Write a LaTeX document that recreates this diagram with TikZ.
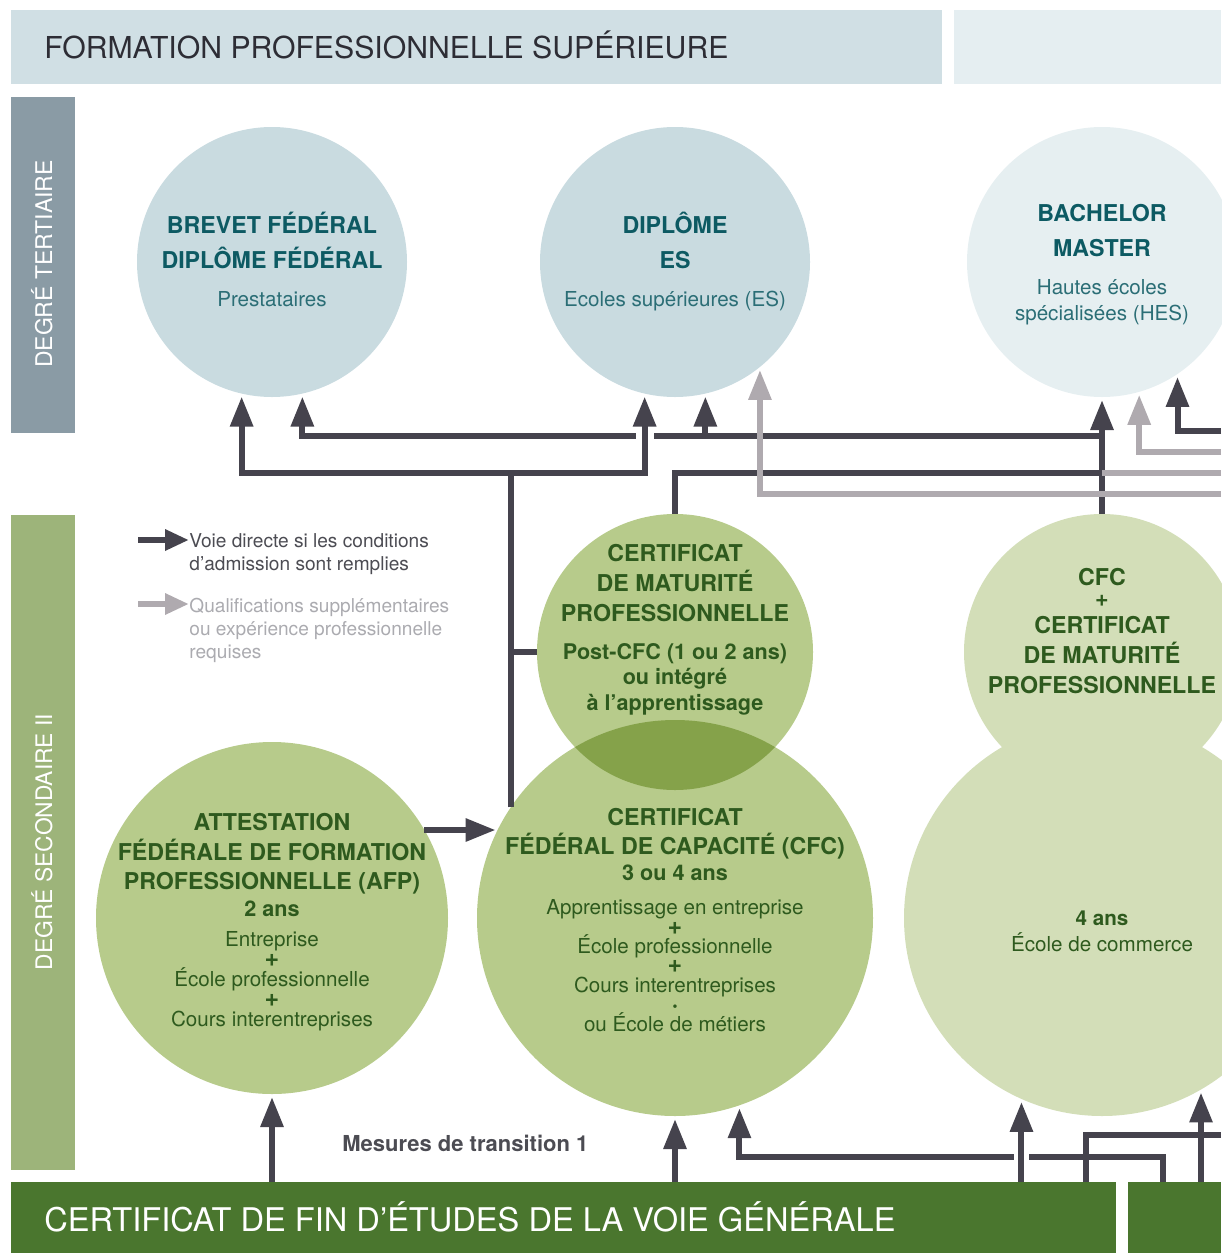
\documentclass[tikz,border=0pt]{standalone}
\usepackage{fontspec}
\setmainfont{TeX Gyre Heros}
\usetikzlibrary{arrows.meta}

\definecolor{bandeau}{HTML}{D0DFE4}
\definecolor{bandeauclair}{HTML}{E5EEF1}
\definecolor{tertiaire}{HTML}{8A9BA5}
\definecolor{secondaire}{HTML}{9DB47A}
\definecolor{vertfonce}{HTML}{4A762E}
\definecolor{bleu}{HTML}{C9DBE0}
\definecolor{bleuclair}{HTML}{E6EFF1}
\definecolor{vert}{HTML}{B7CB8B}
\definecolor{vertmoyen}{HTML}{85A24A}
\definecolor{vertclair}{HTML}{D3DEB8}
\definecolor{petrole}{HTML}{0D5A63}
\definecolor{petrolec}{HTML}{2B6E76}
\definecolor{textevert}{HTML}{2E5A1E}
\definecolor{fleche}{HTML}{45434D}
\definecolor{flechegris}{HTML}{AFAAAF}
\definecolor{legendegris}{HTML}{ABABB0}
\definecolor{titre}{HTML}{2D2D35}

\newcommand\plus{{\bfseries\fontsize{12.5}{9}\selectfont +}}

\tikzset{
  rond/.style={circle,inner sep=0pt,outer sep=0pt},
  bande/.style={inner sep=0pt,outer sep=0pt,anchor=north west},
  ligne/.style={draw=fleche,line width=3pt},
  voie/.style={ligne,-{Triangle[length=15pt,width=11pt]},shorten >=1.5pt},
  gris/.style={draw=flechegris,line width=3pt},
  grisvoie/.style={gris,-{Triangle[length=15pt,width=11pt]},shorten >=1.5pt},
  texte/.style={align=center,anchor=base,inner sep=0pt},
  gras/.style={texte,font=\bfseries\fontsize{11.6}{#1}\selectfont},
  fin/.style={texte,font=\fontsize{10.3}{#1}\selectfont},
}

\begin{document}
\begin{tikzpicture}[x=0.5pt,y=-0.5pt]
\useasboundingbox (0,0) rectangle (1221,1253);

% bandeaux
\node[bande,fill=bandeau,minimum width=465.5pt,minimum height=37pt] (entete) at (11,10) {};
\node[bande,fill=bandeauclair,minimum width=133.5pt,minimum height=37pt] (entete2) at (954,10) {};
\node[bande,fill=tertiaire,minimum width=32pt,minimum height=168pt] (tert) at (11,97) {};
\node[bande,fill=secondaire,minimum width=32pt,minimum height=327.5pt] (sec) at (11,515) {};
\node[bande,fill=vertfonce,minimum width=552.5pt,minimum height=35.5pt] (fin) at (11,1182) {};
\node[bande,fill=vertfonce,minimum width=46.5pt,minimum height=35.5pt] (fin2) at (1128,1182) {};

\node[anchor=base west,inner sep=0pt,text=titre,font=\fontsize{15.1}{17}\selectfont] (tsup) at (44,58) {FORMATION PROFESSIONNELLE SUPÉRIEURE};
\node[anchor=base west,inner sep=0pt,text=white,font=\fontsize{16.3}{18}\selectfont] (tfin) at (44,1231) {CERTIFICAT DE FIN D’ÉTUDES DE LA VOIE GÉNÉRALE};
\node[rotate=90,anchor=base,inner sep=0pt,text=white,font=\fontsize{11.5}{13}\selectfont] (ttert) at (52,264) {DEGRÉ TERTIAIRE};
\node[rotate=90,anchor=base,inner sep=0pt,text=white,font=\fontsize{11.4}{13}\selectfont] (tsec) at (52,842) {DEGRÉ SECONDAIRE II};

% cercles
\node[rond,fill=bleu,minimum size=135pt] (brevet) at (272,262) {};
\node[rond,fill=bleu,minimum size=135pt] (es) at (675,262) {};
\node[rond,fill=bleuclair,minimum size=135pt] (hes) at (1102,262) {};
\node[rond,fill=vertclair,minimum size=138pt] (cfcmp) at (1102,652) {};
\node[rond,fill=vertclair,minimum size=198pt] (commerce) at (1102,918) {};
\node[rond,fill=vert,minimum size=176pt] (afp) at (272,918) {};
\node[rond,fill=vert,minimum size=198pt] (cfc) at (675,918) {};
\node[rond,fill=vert,minimum size=138pt] (mp) at (675,652) {};
\begin{scope}
\clip (mp.center) circle[radius=69pt];
\fill[vertmoyen] (cfc.center) circle[radius=99pt];
\end{scope}

% voies directes
\coordinate (bord) at (1221,0);
\coordinate (j1) at (0,473);
\coordinate (j2) at (0,436);
\coordinate (j3) at (0,431);
\coordinate (j4) at (0,494);
\coordinate (j5) at (0,452);
\coordinate (c1) at (1163,1157);
\coordinate (c2) at (1086,1135);
\draw[voie] (cfc.146) |- (es.-103 |- j1) -- (es.-103);
\draw[voie] (cfc.146 |- j1) -| (brevet.-103);
\draw[ligne] (mp.west) -- (mp.west -| cfc.146);
\draw[ligne] (hes.south |- j2) -- ([xshift=4.5pt]es.-103 |- j2);
\draw[voie] ([xshift=-4.5pt]es.-103 |- j2) -| (brevet.-77);
\draw[voie] (es.-77 |- j2) -- (es.-77);
\draw[voie] (cfcmp.north) -- (hes.south);
\draw[ligne] (mp.north) |- (hes.south |- j1);
\draw[voie] (bord |- j3) -| (hes.-56);
\draw[voie] (afp.30) -- (afp.30 -| cfc.153);
\draw[voie] (afp.south |- fin.north) -- (afp.south);
\draw[voie] (cfc.south |- fin.north) -- (cfc.south);
\draw[ligne] (c1 |- fin2.north) |- ([xshift=3.75pt]commerce.246 |- c1);
\draw[voie] ([xshift=-3.75pt]commerce.246 |- c1) -| (cfc.-71);
\draw[voie] (commerce.246 |- fin.north) -- (commerce.246);
\draw[ligne] (c2 |- fin.north) |- (bord |- c2);
\draw[voie] (commerce.-60 |- fin2.north) -- (commerce.-60);

% qualifications
\draw[gris] (bord |- j1) -- (hes.south |- j1);
\draw[grisvoie] (bord |- j4) -| (es.-51);
\draw[grisvoie] (bord |- j5) -| (hes.-74);

% legende (ancre sur la derniere ligne)
\node[anchor=base west,inner sep=0pt,align=left,text=titre!85,font=\fontsize{9.55}{11.5}\selectfont] (leg1) at (189,570) {Voie directe si les conditions\\d’admission sont remplies};
\node[anchor=base west,inner sep=0pt,align=left,text=legendegris,font=\fontsize{9.55}{11.5}\selectfont] (leg2) at (189,658) {Qualifications supplémentaires\\ou expérience professionnelle\\requises};
\coordinate (l1) at (138,540);
\coordinate (l2) at (138,604);
\draw[ligne,-{Triangle[length=12pt,width=10pt]}] (l1) -- (l1 -| leg1.west);
\draw[gris,-{Triangle[length=12pt,width=10pt]}] (l2) -- (l2 -| leg2.west);
\node[anchor=base west,inner sep=0pt,text=titre!85,font=\bfseries\fontsize{11}{13}\selectfont] (mesures) at (342,1151) {Mesures de transition 1};

% textes des cercles
\node[gras=17.5pt,text=petrole] (tbrevet) at (272,268.5) {BREVET FÉDÉRAL\\DIPLÔME FÉDÉRAL};
\node[fin=13pt,text=petrolec] (pbrevet) at (272,306.5) {Prestataires};
\node[gras=17.5pt,text=petrole] (tes) at (675,268.5) {DIPLÔME\\ES};
\node[fin=13pt,text=petrolec] (pes) at (675,306.5) {Ecoles supérieures (ES)};
\node[gras=17.5pt,text=petrole] (thes) at (1102,256) {BACHELOR\\MASTER};
\node[fin=13pt,text=petrolec] (phes) at (1102,320) {Hautes écoles\\spécialisées (HES)};

\node[gras=15pt,text=textevert] (tmp) at (675,621.5) {CERTIFICAT\\DE MATURITÉ\\PROFESSIONNELLE};
\node[texte,text=textevert,font=\bfseries\fontsize{10.8}{12.75}\selectfont] (pmp) at (675,710) {Post-CFC (1 ou 2 ans)\\ou intégré\\à l’apprentissage};

\node[gras=14.5pt,text=textevert] (tcfc) at (675,854) {CERTIFICAT\\FÉDÉRAL DE CAPACITÉ (CFC)};
\node[texte,text=textevert,font=\bfseries\fontsize{10.8}{13}\selectfont] (dcfc) at (675,880) {3 ou 4 ans};
\node[fin=9.7pt,text=textevert] (pcfc) at (675,1031) {Apprentissage en entreprise\\\plus\\École professionnelle\\\plus\\Cours interentreprises\\{\fontsize{7}{8}\selectfont •}\\ou École de métiers};

\node[gras=14.75pt,text=textevert] (tafp) at (272,889.5) {ATTESTATION\\FÉDÉRALE DE FORMATION\\PROFESSIONNELLE (AFP)};
\node[texte,text=textevert,font=\bfseries\fontsize{10.8}{13}\selectfont] (dafp) at (272,916) {2 ans};
\node[fin=10pt,text=textevert] (pafp) at (272,1026) {Entreprise\\\plus\\École professionnelle\\\plus\\Cours interentreprises};

\node[gras=15pt,text=textevert] (tcfcmp) at (1102,693) {CFC\\[-4.5pt]+\\[-1.5pt]CERTIFICAT\\DE MATURITÉ\\PROFESSIONNELLE};
\node[texte,text=textevert,font=\fontsize{10.3}{13}\selectfont] (pcom) at (1102,951) {\textbf{4 ans}\\École de commerce};
\end{tikzpicture}
\end{document}
